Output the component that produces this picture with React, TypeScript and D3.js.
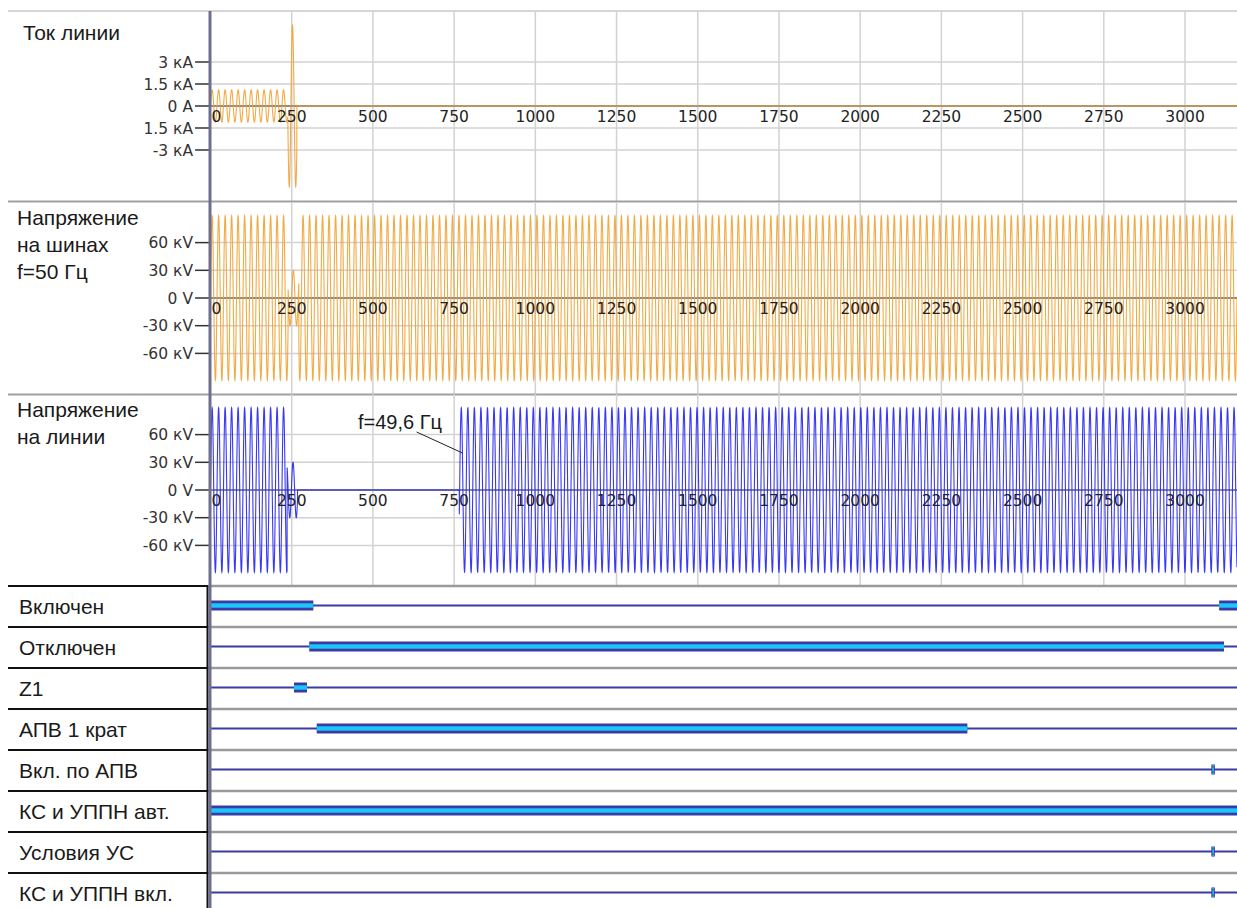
import React from "react";
import * as d3 from "d3";

const W = 1237;
const H = 908;

// ---- time axis (ms) ----
const timeDomain = [0, 3160];
const timeTicks = [0, 250, 500, 750, 1000, 1250, 1500, 1750, 2000, 2250, 2500, 2750, 3000];

// ---- analog channels ----
const currentTitle = ["Ток линии"];
const busTitle = ["Напряжение", "на шинах", "f=50 Гц"];
const lineTitle = ["Напряжение", "на линии"];

const currentTicks = [3, 1.5, 0, -1.5, -3];
const currentTickLabels = ["3 кА", "1.5 кА", "0 А", "1.5 кА", "-3 кА"];
const voltageTicks = [60, 30, 0, -30, -60];
const voltageTickLabels = ["60 кV", "30 кV", "0 V", "-30 кV", "-60 кV"];

// segments: [start ms, end ms, amplitude (kA / kV), frequency Hz, time of a positive peak ms]
const currentSegments = [
  [0, 238, 1.1, 50, 5],
  [238, 266, 5.5, 50, 252.5],
  [266, 3160, 0, 50, 0],
];
const busSegments = [
  [0, 239, 89, 50, 5],
  [239, 272, 30, 50, 255],
  [272, 3160, 89, 50, 5],
];
const lineSegments = [
  [0, 236, 89, 50, 5],
  [236, 268, 30, 50, 254],
  [268, 766, 0, 50, 0],
  [766, 3160, 89, 49.6, 772],
];
const lineAnnotation = "f=49,6 Гц";
const annotationTime = 770;
const annotationValue = 40;

// ---- digital channels ----
const digitalNames = [
  "Включен",
  "Отключен",
  "Z1",
  "АПВ 1 крат",
  "Вкл. по АПВ",
  "КС и УППН авт.",
  "Условия УС",
  "КС и УППН вкл.",
];
// active intervals in ms
const digitalOn: number[][][] = [
  [[0, 315], [3105, 3160]],
  [[304, 3120]],
  [[257, 297]],
  [[327, 2330]],
  [[3081, 3085]],
  [[0, 3160]],
  [[3081, 3085]],
  [[3081, 3085]],
];

const STEP = 0.25;

function sample(segs: number[][]) {
  const pts: [number, number][] = [];
  for (let t = timeDomain[0]; t <= timeDomain[1]; t += STEP) {
    const s = segs.find((g) => t >= g[0] && t < g[1]) || segs[segs.length - 1];
    const v = s[2] * Math.cos((2 * Math.PI * s[3] * (t - s[4])) / 1000);
    pts.push([t, v]);
  }
  return pts;
}

const FONT_TXT = "'Liberation Sans', Arial, sans-serif";
const FONT_TICK = "'DejaVu Sans', Verdana, sans-serif";

export default function App() {
  const x = d3.scaleLinear().domain(timeDomain).range([210.5, W]);

  const panels = [
    { top: 11, bottom: 201, max: 6.48, ticks: currentTicks, labels: currentTickLabels, title: currentTitle, titleX: 23, titleY0: 40, segs: currentSegments, color: "#f0a232", width: 1.1 },
    { top: 202, bottom: 394, max: 104, ticks: voltageTicks, labels: voltageTickLabels, title: busTitle, titleX: 17, titleY0: 225, segs: busSegments, color: "#f0a232", width: 1.1 },
    { top: 394, bottom: 586, max: 104, ticks: voltageTicks, labels: voltageTickLabels, title: lineTitle, titleX: 17, titleY0: 417, segs: lineSegments, color: "#2222f4", width: 1.1 },
  ];

  const rowTop = 586;
  const rowH = 41;
  const dark = "#3b3ba4";
  const cyan = "#1cc6fa";

  return (
    <svg width={W} height={H} style={{ position: "absolute", left: 0, top: 0, background: "#fff" }}>
      <rect x={0} y={0} width={W} height={H} fill="#fff" />
      <line x1={8} x2={W} y1={11} y2={11} stroke="#c8c8c8" strokeWidth={1.5} />
      {panels.map((p, i) => {
        const y = d3.scaleLinear().domain([-p.max, p.max]).range([p.bottom, p.top]);
        const line = d3
          .line<[number, number]>()
          .x((d) => x(d[0]))
          .y((d) => y(d[1]));
        const data = sample(p.segs);
        const clipId = `clip${i}`;
        return (
          <g key={i}>
            <clipPath id={clipId}>
              <rect x={211} y={p.top} width={W - 211} height={p.bottom - p.top} />
            </clipPath>
            {timeTicks.slice(1).map((t) => (
              <line key={t} x1={x(t)} x2={x(t)} y1={p.top} y2={p.bottom} stroke="#d2d2d2" strokeWidth={1.5} />
            ))}
            {p.ticks.map((v) => (
              <line key={v} x1={211} x2={W} y1={y(v)} y2={y(v)} stroke="#d2d2d2" strokeWidth={1.5} />
            ))}
            <line x1={211} x2={W} y1={y(0)} y2={y(0)} stroke="#8a8a8a" strokeWidth={2} />
            <path d={line(data) || ""} fill="none" stroke={p.color} strokeWidth={p.width} strokeOpacity={0.9} clipPath={`url(#${clipId})`} />
            {timeTicks.map((t) => (
              <text
                key={t}
                x={t === 0 ? x(t) + 6 : x(t)}
                y={y(0) + 16}
                textAnchor="middle"
                fontFamily={FONT_TICK}
                fontSize={15.5}
                fill="#222"
              >
                {t}
              </text>
            ))}
            {p.ticks.map((v, k) => (
              <g key={v}>
                <line x1={195} x2={209} y1={y(v)} y2={y(v)} stroke="#333" strokeWidth={1.5} />
                <text x={193} y={y(v)} dy="0.36em" textAnchor="end" fontFamily={FONT_TICK} fontSize={15.5} fill="#333">
                  {p.labels[k]}
                </text>
              </g>
            ))}
            {p.title.map((s, k) => (
              <text key={k} x={p.titleX} y={p.titleY0 + k * 27} fontFamily={FONT_TXT} fontSize={21} fill="#1a1a1a">
                {s}
              </text>
            ))}
            {i < 2 && <line x1={8} x2={W} y1={p.bottom + 0.5} y2={p.bottom + 0.5} stroke="#a0a0a0" strokeWidth={2} />}
            {i === 2 && (
              <g>
                <line x1={x(annotationTime) - 44} y1={y(0) - 58} x2={x(annotationTime) + 2} y2={y(annotationValue)} stroke="#222" strokeWidth={1} />
                <text x={358} y={429} fontFamily={FONT_TXT} fontSize={20} fill="#1a1a1a">
                  {lineAnnotation}
                </text>
              </g>
            )}
          </g>
        );
      })}

      {digitalNames.map((name, r) => {
        const top = rowTop + r * rowH;
        const cy = top + 19.5;
        return (
          <g key={name}>
            <line x1={8} x2={208} y1={top} y2={top} stroke="#111" strokeWidth={2} />
            <line x1={208} x2={W} y1={top} y2={top} stroke="#9a9a9a" strokeWidth={2.5} />
            <text x={19} y={cy + 8} fontFamily={FONT_TXT} fontSize={21} fill="#1a1a1a">
              {name}
            </text>
            <line x1={211} x2={W} y1={cy} y2={cy} stroke={dark} strokeWidth={2.2} />
            {digitalOn[r].map(([a, b], k) => {
              const x0 = x(a);
              const w = Math.max(3.5, x(b) - x(a));
              const short = x(b) - x(a) < 6;
              return (
                <g key={k}>
                  <rect x={Math.max(211, x0)} y={cy - 5} width={Math.min(w, W - Math.max(211, x0))} height={10} fill={dark} />
                  <rect
                    x={Math.max(211, x0) + (short ? 1 : 0)}
                    y={cy - 2.2}
                    width={Math.min(w, W - Math.max(211, x0)) - (short ? 2 : 0)}
                    height={4.4}
                    fill={cyan}
                  />
                  {short && (
                    <>
                      <rect x={x0 + 1} y={cy - 4.5} width={w - 2} height={1.5} fill={cyan} />
                      <rect x={x0 + 1} y={cy + 3} width={w - 2} height={1.5} fill={cyan} />
                    </>
                  )}
                </g>
              );
            })}
          </g>
        );
      })}
      <line x1={207.5} x2={207.5} y1={rowTop} y2={H} stroke="#111" strokeWidth={2} />
      <line x1={210} x2={210} y1={11} y2={H} stroke="#6e6e8e" strokeWidth={3} />
    </svg>
  );
}
